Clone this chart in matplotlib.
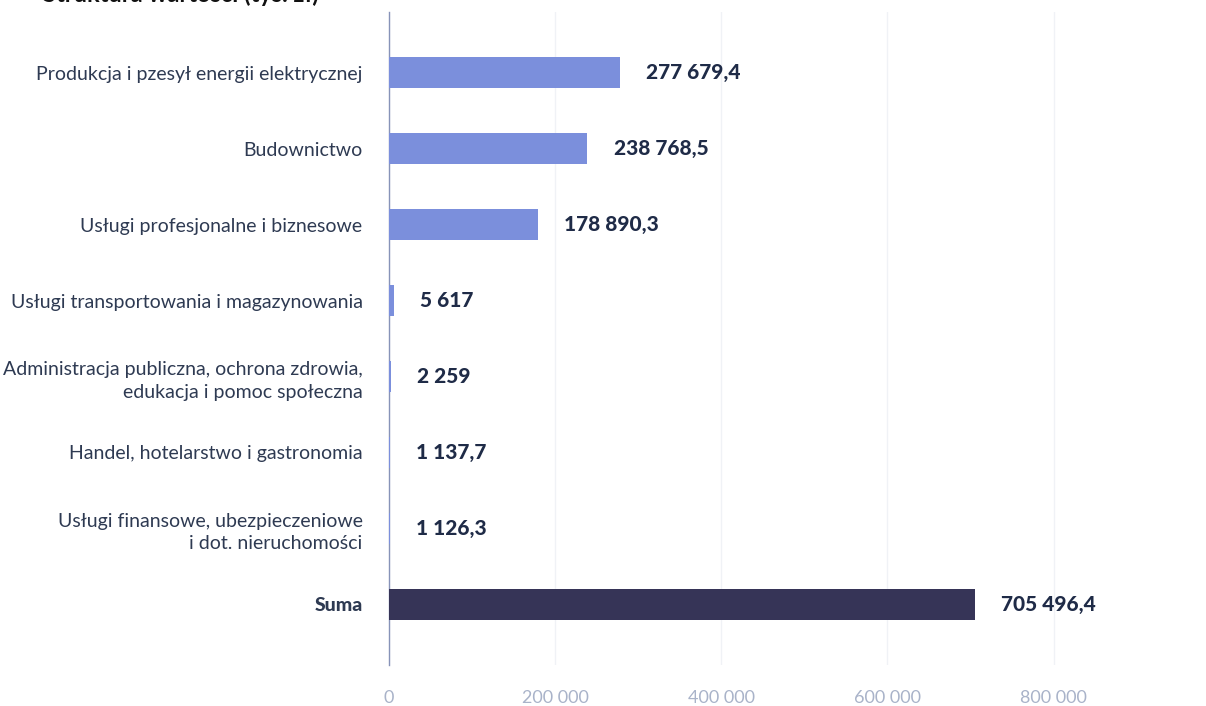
import matplotlib
matplotlib.use("Agg")
import matplotlib.pyplot as plt
import numpy as np

plt.rcParams['font.family'] = ['Lato', 'DejaVu Sans']

# dane (tys. zl)
kategorie = [
    "Produkcja i pzesył energii elektrycznej",
    "Budownictwo",
    "Usługi profesjonalne i biznesowe",
    "Usługi transportowania i magazynowania",
    "Administracja publiczna, ochrona zdrowia,\nedukacja i pomoc społeczna",
    "Handel, hotelarstwo i gastronomia",
    "Usługi finansowe, ubezpieczeniowe\ni dot. nieruchomości",
    "Suma",
]
wartosci = [277679.4, 238768.5, 178890.3, 5617, 2259, 1137.7, 1126.3, 705496.4]
etykiety = ["277 679,4", "238 768,5", "178 890,3", "5 617", "2 259",
            "1 137,7", "1 126,3", "705 496,4"]
xticks = [0, 200000, 400000, 600000, 800000]
xtick_labels = ["0", "200 000", "400 000", "600 000", "800 000"]

jasny = '#7b8fdc'
ciemny = '#363457'
kolory = [jasny] * 7 + [ciemny]

fig = plt.figure(figsize=(12.06, 7.06), dpi=100)
ax = fig.add_axes([389/1206, 41/706, (1120-389)/1206, (665-12)/706])

y = np.arange(len(kategorie))
ax.barh(y, wartosci, height=0.41, color=kolory, zorder=3)

for i, (v, t) in enumerate(zip(wartosci, etykiety)):
    ax.annotate(t, (v, i), xytext=(19, 0), textcoords='offset points',
                va='center', ha='left', fontsize=15, fontweight='black',
                color='#1f2b47')

ax.set_ylim(7.8, -0.8)
ax.set_xlim(0, 880000)
ax.set_yticks(y)
ax.set_yticklabels(kategorie, fontsize=14, color='#2e3a52', linespacing=1.4)
for lbl in ax.get_yticklabels():
    lbl.set_multialignment('right')
ax.get_yticklabels()[-1].set_fontweight('black')
ax.set_xticks(xticks)
ax.set_xticklabels(xtick_labels, fontsize=13, color='#a9b3c9')
ax.tick_params(axis='y', length=0, pad=19)
ax.tick_params(axis='x', length=0, pad=18)

ax.grid(axis='x', color='#f0f2f6', linewidth=1, zorder=0)
for s in ['top', 'right', 'bottom']:
    ax.spines[s].set_visible(False)
ax.spines['left'].set_color('#8793b8')
ax.spines['left'].set_linewidth(1)

# tytul obciety u gory (w oryginale widoczny tylko dol napisu)
fig.text(43/1206, 1 - 2/706, "Struktura wartości (tys. zł)", fontsize=17,
         fontweight='bold', color='#111111', va='baseline')

fig.savefig("out.png", dpi=100)
